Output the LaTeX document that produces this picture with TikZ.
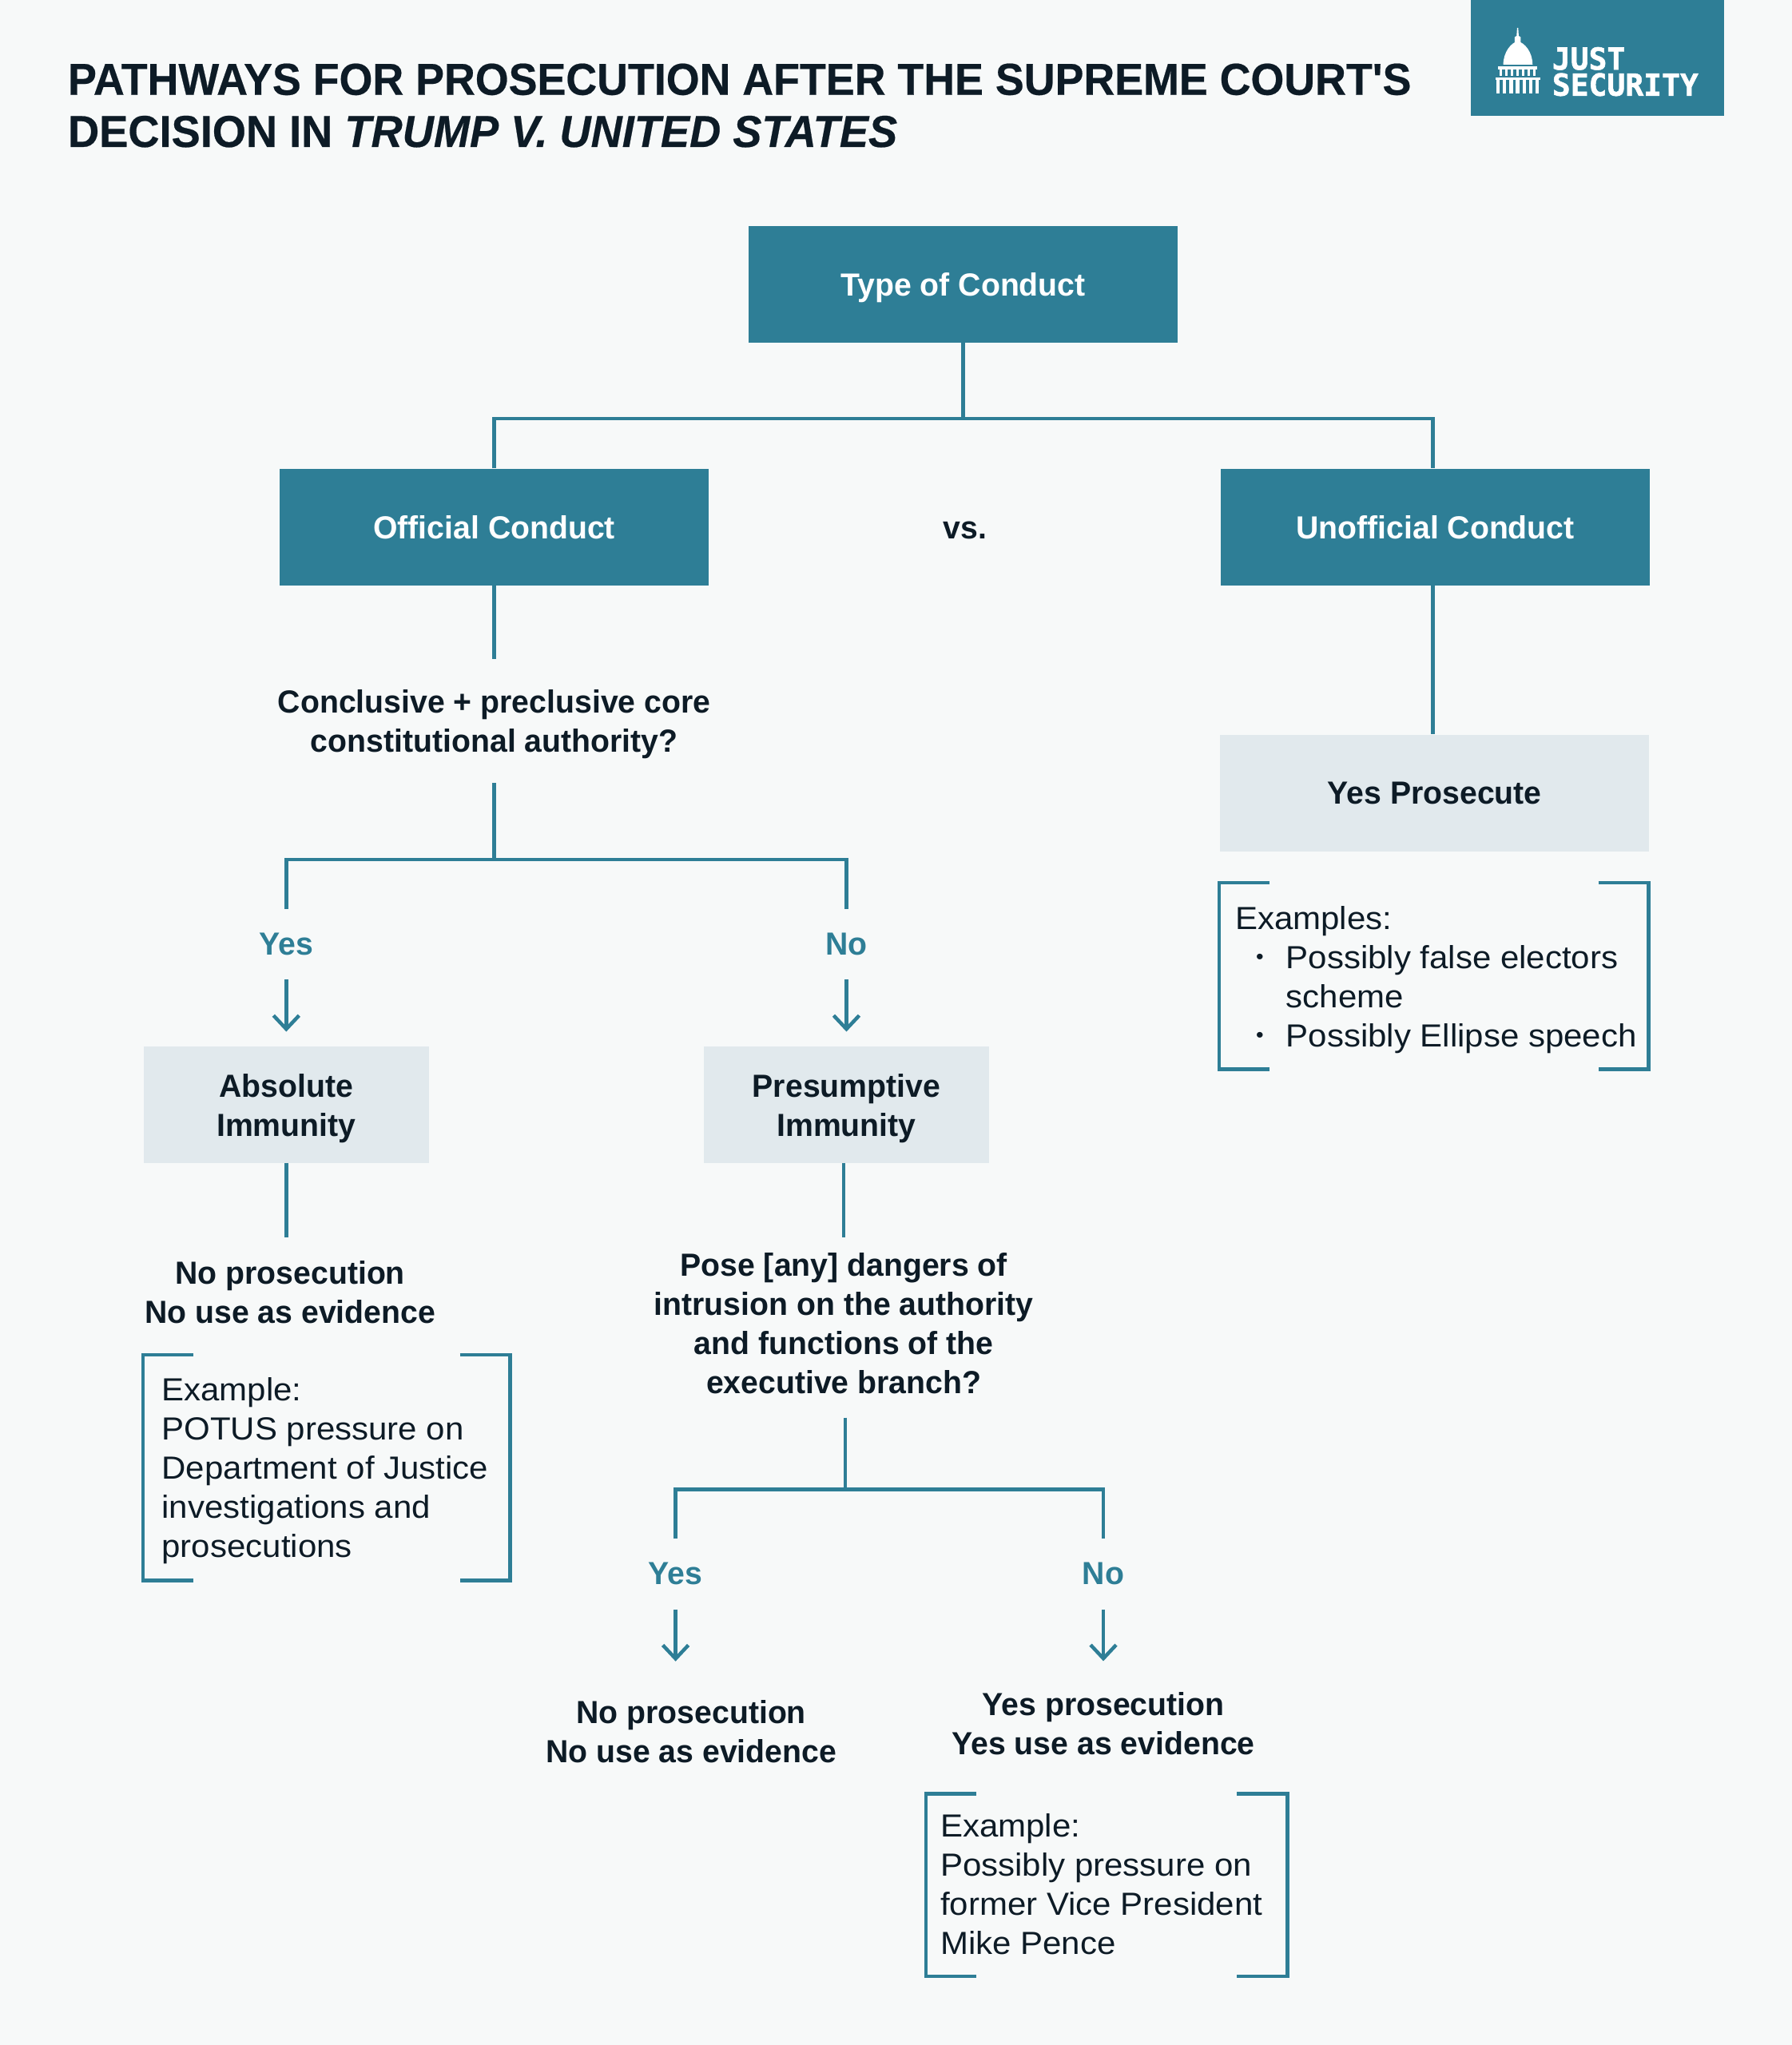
\documentclass[tikz,border=0pt]{standalone}
\usepackage{fontspec}
\setmainfont{Liberation Sans}[FakeStretch=1.05,BoldFeatures={FakeStretch=0.98}]
\newfontfamily\logofont{DejaVu Sans Mono}[FakeBold=1.5]
\newfontfamily\titlefont{Liberation Sans}[FakeStretch=0.96,FakeBold=0.4]
\newfontfamily\titlefontb{Liberation Sans}[FakeStretch=0.968,FakeBold=0.4]
\usetikzlibrary{arrows.meta}
\definecolor{teal1}{HTML}{2E7E96}
\definecolor{bgc}{HTML}{F7F9F9}
\definecolor{lightbox}{HTML}{E1E9ED}
\definecolor{ink}{HTML}{0D1B26}
\newcommand{\bodyfs}{\fontsize{40pt}{49pt}\selectfont}
\newcommand{\titlefs}{\fontsize{56pt}{65pt}\selectfont\bfseries}
\newcommand{\tall}[1]{\rule{0pt}{#1}}
\newcommand{\deep}[1]{\rule[-#1]{0pt}{1pt}}
\tikzset{
 x=1.6325pt,y=-1.6325pt,
 darkbox/.style={fill=teal1,text=white,font=\bodyfs\bfseries,align=center,minimum width=537pt,minimum height=146pt,inner sep=0pt,text height=29pt,text depth=0pt},
 palebox/.style={fill=lightbox,text=ink,font=\bodyfs\bfseries,align=center,inner sep=0pt},
 question/.style={text=ink,font=\bodyfs\bfseries,align=center,inner sep=0pt},
 answer/.style={text=teal1,font=\bodyfs\bfseries,align=center,inner sep=0pt,minimum height=88pt},
 note/.style={text=ink,font=\bodyfs,align=left,inner sep=0pt,anchor=north west},
 bulletmark/.style={text=ink,font=\fontsize{26pt}{26pt}\selectfont,inner sep=0pt,anchor=base},
 logotext/.style={anchor=north west,inner sep=0pt,text=white,align=left,font=\logofont\fontsize{38pt}{32.6pt}\selectfont\bfseries},
 titletext/.style={anchor=base west,inner sep=0pt,text=ink},
 link/.style={draw=teal1,line width=4.5pt},
 arrowlink/.style={link,-{Straight Barb[length=17pt,width=32pt,line width=4.5pt]}},
 brak/.style={draw=teal1,line width=4.5pt},
}
\begin{document}
\begin{tikzpicture}
\useasboundingbox (0,0) rectangle (1374,1568.2);
\fill[bgc] (0,0) rectangle (1374,1568.2);
% title
\node[titletext,font=\titlefont\titlefs] (title1) at (52,72.7) {PATHWAYS FOR PROSECUTION AFTER THE SUPREME COURT'S};
\node[titletext,font=\titlefontb\titlefs] (title2) at (52,112.7) {DECISION IN \textit{TRUMP V. UNITED STATES}};
% logo
\fill[teal1] (1128,0) rectangle (1322,88.8);
\node[logotext] (logo) at (1190,36) {JUST\\SECURITY};
\begin{scope}[shift={(1860pt,-25pt)},x=0.3333pt,y=-0.3333pt]
 \fill[white] (65,168) .. controls (65,120) and (95,85) .. (119,80) .. controls (145,85) and (175,120) .. (175,168) -- cycle;
 \fill[white] (108,84) -- (108,64) -- (115,60) -- (117,30) -- (121,30) -- (123,60) -- (130,64) -- (130,84) -- cycle;
 \fill[white] (45,175) rectangle (193,185);
 \fill[white] (35,215) rectangle (203,226);
 \foreach \i in {0,...,6}{
  \fill[white] ({50+\i*21},185) rectangle ({61+\i*21},210);
  \fill[white] ({39+\i*24.5},226) rectangle ({52+\i*24.5},275);
 }
\end{scope}
% boxes
\node[darkbox] (type) at (738.5,218) {Type of Conduct};
\node[darkbox] (official) at (379,404) {Official Conduct};
\node[darkbox] (unofficial) at (1100.5,404) {Unofficial Conduct};
\node[question,text height=29pt,text depth=0pt] (vs) at (740,404) {vs.};
\coordinate (hub) at (738.5,321);
\coordinate (rtop) at (1098.5,359);
\coordinate (rbot) at (1098.5,448);
\draw[link] (type.south) -- (hub);
\draw[link] (official.north) |- (hub) -| (rtop);
\node[palebox,minimum width=537pt,minimum height=146pt] (yesp) at (1100,608) {Yes Prosecute};
\draw[link] (rbot) -- (rbot |- yesp.north);
\node[question,minimum height=155pt] (q1) at (379,553) {\tall{36pt}Conclusive + preclusive core\\constitutional authority?};
\draw[link] (official.south) -- (q1.north);
\coordinate (hub2) at (379,659);
\draw[link] (q1.south) -- (hub2);
\node[answer] (yes1) at (219.5,724) {Yes};
\node[answer] (no1) at (649,724) {No};
\draw[link] (yes1.north) |- (hub2) -| (no1.north);
\node[palebox,minimum width=357pt,minimum height=146pt] (abs) at (219.5,847) {\tall{38pt}Absolute\\Immunity};
\node[palebox,minimum width=357pt,minimum height=146pt] (pres) at (649,847) {\tall{38pt}Presumptive\\Immunity};
\draw[arrowlink,shorten >=18pt] (yes1.south) -- (abs.north);
\draw[arrowlink,shorten >=18pt] (no1.south) -- (pres.north);
\node[question,minimum height=137pt] (q2) at (222.5,991) {No prosecution\\No use as evidence};
\draw[link] (abs.south) -- (abs.south |- q2.north);
\node[question,minimum height=225pt] (q3) at (647,1018) {Pose [any] dangers of\\intrusion on the authority\\and functions of the\\executive branch?\deep{10pt}};
\draw[link] (q3.north |- pres.south) -- (q3.north);
\coordinate (hub3) at (648,1142);
\draw[link] (hub3 |- q3.south) -- (hub3);
\node[answer] (yes2) at (518,1207) {Yes};
\node[answer] (no2) at (846,1207) {No};
\draw[link] (yes2.north) |- (hub3) -| (no2.north);
\node[question,minimum height=176pt] (r1) at (530,1328) {No prosecution\\No use as evidence};
\node[question,minimum height=157pt] (r2) at (846,1322) {Yes prosecution\\Yes use as evidence};
\draw[arrowlink] (yes2.south) -- (yes2.south |- r1.north);
\draw[arrowlink] (no2.south) -- (r2.north);
% bracketed notes
\node[inner sep=0pt,minimum width=459pt,minimum height=282pt] (ex1) at (250.5,1125.5) {};
\node[inner sep=0pt,minimum width=537pt,minimum height=233pt] (ex2) at (1099.5,748.5) {};
\node[inner sep=0pt,minimum width=452pt,minimum height=228pt] (ex3) at (848.5,1445.5) {};
\foreach \n in {ex1,ex2,ex3}{
 \draw[brak] ([xshift=63pt]\n.north west) -- (\n.north west) -- (\n.south west) -- ([xshift=63pt]\n.south west);
 \draw[brak] ([xshift=-63pt]\n.north east) -- (\n.north east) -- (\n.south east) -- ([xshift=-63pt]\n.south east);
}
\node[note] (ex1t) at (124,1056) {Example:\\POTUS pressure on\\Department of Justice\\investigations and\\prosecutions};
\node[note] (ex3t) at (721,1391) {Example:\\Possibly pressure on\\former Vice President\\Mike Pence};
\node[note] (ex2t) at (947,695) {Examples:};
\node[note] (ex2a) at (986,725) {Possibly false electors\\scheme};
\node[note] (ex2b) at (986,785) {Possibly Ellipse speech};
\node[bulletmark] (dota) at (966,739) {•};
\node[bulletmark] (dotb) at (966,799) {•};
\end{tikzpicture}
\end{document}
